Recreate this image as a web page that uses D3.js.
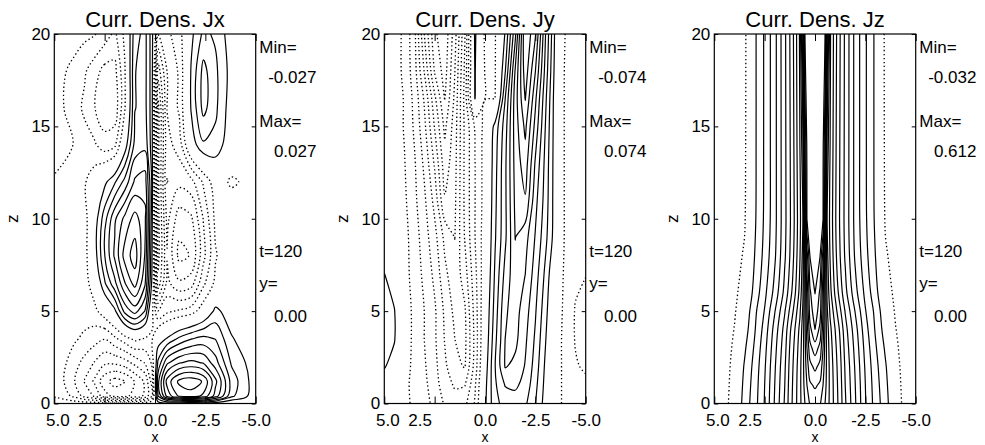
<!DOCTYPE html>
<html>
<head>
<meta charset="utf-8">
<script src="https://cdn.jsdelivr.net/npm/d3@7"></script>
<style>
  body { margin: 0; background: #fff; }
  text { font-family: "Liberation Sans", Arial, Helvetica, sans-serif; fill: #000; }
</style>
</head>
<body>
<div id="chart"></div>
<script>
(function() {
  'use strict'

  // ---- data (grid values in units of 1e-3) ----
  var titles = ["Curr. Dens. Jx", "Curr. Dens. Jy", "Curr. Dens. Jz"]
  var minLabels = ["-0.027", "-0.074", "-0.032"]
  var maxLabels = ["0.027", "0.074", "0.612"]
  var timeLabel = "t=120"
  var yLabel = "y="
  var yValue = "0.00"
  var xTicks = [5, 2.5, 0, -2.5, -5]
  var zTicks = [0, 5, 10, 15, 20]

  // Jx : columns from x=5 to x=-5, rows from z=0 up to z=20
  var jxX = [5, 4, 3.5, 3, 2.5, 2, 1.5, 1, 0.5, 0.15, -0.15, -0.6, -1.2, -1.8, -2.4, -3, -3.8, -5]
  var jxZ = [0, 0.4, 1.2, 2.2, 3.5, 5, 6.5, 8, 10, 12, 14, 16, 18, 20]
  var jxGrid = [
    [-1, -1, -1, -1, -2, -2, -2, -2, -1, 0, 1, 2, 2, 2, 2, 1, 0, 0],
    [-3, -6, -9, -11, -15, -17, -17, -15, -13, -8, 8, 17, 22, 23, 21, 15, 6, 1],
    [-3, -8, -11, -14, -18, -20, -19, -16, -13, -7, 10, 20, 25, 26, 24, 17, 7, 1],
    [-3, -7, -9, -11, -13, -13, -12, -10, -8, -5, 6, 13, 16, 17, 16, 12, 5, 1],
    [-3, -5, -6, -7, -8, -6, -4, -2, -3, -3, 1, 3, 6, 8, 9, 8, 3, 0],
    [-3, -3, -4, -3.5, -1, 2, 9, 12, 8, -2, -8, -6, -5, -4, -1, 3.5, 1, 0],
    [-3, -3, -4, -1, 5, 10, 16, 20, 14, 2, -18, -10, -13, -12, -6, -2, 0, 0],
    [-3, -3, -4, 1.2, 8, 14, 20, 23, 16, 3, -20, -11, -17, -16, -9, -3, 0, 0],
    [-3, -3, -4, 1, 7, 13, 17, 20, 17, 4, -20, -10, -15, -14, -8, -2, 0, 0],
    [-3, -2.8, -3, -1, 2, 5, 9, 14, 15, 5, -20, -8, -10, -9, -5, -1, -3.2, -1.5],
    [-1.5, -2.8, -4, -5, -7, -6, 1, 9, 10, 4, -20, -9, -7, 1, 5, 4.5, 0.5, 0],
    [-1.5, -4, -6, -8, -10, -10, -3, 8, 9, 4, -20, -8, -5, 3, 9, 6, 1, 0],
    [-1.5, -3.5, -5, -7, -9, -9, -3, 8, 9, 4, -15, -8, -5, 3, 9, 6, 1.5, 0],
    [-1, -1.5, -2, -2.5, -4, -6, -2, 7, 9, 4, -8, -6, -4, 2, 6, 5, 1, 0]
  ]
  var jxStep = 2.7, jxCount = 9

  // Jy
  var jyX = [5, 4.5, 4, 3.5, 3, 2.5, 2, 1.5, 1, 0.5, 0, -0.5, -1, -1.5, -2, -2.5, -3, -3.5, -4, -4.5, -5]
  var jyZ = [0, 1, 2, 3.5, 5, 7, 9, 11, 13, 15, 16.5, 18, 20]
  var jyGrid = [
    [0, -3, -6, -8.5, -12, -17, -23, -26, -24, -14, 6, 20, 25, 26, 23.5, 15, 4, -5, -9, -11, -11],
    [3, -1, -6, -9, -13, -19, -26, -30.5, -30, -16, 5, 21, 30, 31, 27, 17, 5, -5, -9, -12, -13],
    [8, 4, -5, -9, -14, -20, -28, -35, -37.5, -19, 3, 22, 37.5, 35, 29, 19, 6, -5, -9, -14, -16],
    [10, 8, -4, -9, -15, -21, -30, -37, -39, -20, 1, 20, 37, 39, 31, 21, 8, -5, -9, -15.5, -18],
    [10, 7.8, -4, -9, -15, -21, -31, -39, -38, -19, 0, 18, 36, 40, 33, 23, 10, -4, -9, -15.5, -18],
    [7.6, 3, -5, -10, -17, -24, -35, -42, -33, -17, -2, 16, 32, 42, 37, 26, 13, -2, -9, -13, -14.5],
    [0, -2, -5, -11, -19, -27, -39, -44.6, -29, -15, -3, 14, 28, 44.6, 40, 29, 17, 3, -9, -11, -11],
    [0, -2, -6, -13, -21, -32, -51, -46, -28, -15, -4, 13, 28, 46, 51, 32, 19, 3, -9, -11, -11],
    [0, -2, -7, -14, -24, -38, -56, -47, -28, -15, -4, 12, 28, 47, 56, 36, 20, 3, -9, -11, -11],
    [0, -3, -8, -16, -28, -45, -61, -48, -28, -14, -5, 10, 26, 48, 61, 42, 22, 3, -9, -11, -11],
    [0, -3, -8, -17, -31, -50, -67, -50, -27, 7.6, -7.5, -7.5, 22, 48, 67, 46, 24, 3, -9, -11, -11],
    [0, -4, -9, -19, -38, -60, -70, -52, -28, 8, -8, -8, 14, 45, 71, 52, 27, 4, -9, -11, -11],
    [0, -4, -9, -20, -45, -65, -72, -55, -30, 9, -9, -8, 8, 35, 74, 60, 30, 5, -8, -11, -11]
  ]
  var jyStep = 7.4, jyCount = 9

  // Jz : symmetric in x, one half given (|x| from 0 out to 5)
  var jzHalfX = [0, 0.25, 0.4, 0.5, 0.6, 0.75, 1, 1.25, 1.5, 2, 2.5, 3, 3.5, 4, 4.5, 5]
  var jzZ = [0, 1, 2, 3, 4, 5, 6, 8, 10, 14, 20]
  var jzHalfGrid = [
    [430, 423, 405, 390, 375, 352, 318, 285, 244, 183, 122, 77, 42, 0, -25, -30],
    [455, 445, 420, 400, 380, 352, 316, 282, 240, 180, 120, 74, 38, -3, -26, -31],
    [488, 470, 435, 405, 382, 350, 313, 278, 236, 176, 116, 70, 33, -6, -27, -31],
    [525, 500, 450, 410, 380, 345, 308, 272, 230, 170, 110, 64, 25, -10, -28, -32],
    [570, 530, 465, 415, 375, 338, 300, 264, 222, 162, 102, 57, 15, -14, -29, -32],
    [586, 555, 480, 418, 365, 325, 283, 245, 208, 148, 92, 52, 6, -18, -30, -32],
    [601, 565, 490, 420, 355, 310, 265, 225, 190, 130, 82, 40, -3, -21, -30, -32],
    [607, 601, 525, 430, 340, 298, 250, 210, 176, 115, 70, 30, -12, -25, -31, -32],
    [610, 608, 602, 475, 328, 293, 245, 205, 172, 110, 65, 25, -18, -28, -31, -32],
    [612, 610, 606, 540, 350, 300, 248, 207, 173, 110, 64, 24, -20, -29, -32, -32],
    [610, 609, 606, 603, 420, 305, 252, 210, 174, 110, 64, 24, -21, -30, -32, -32]
  ]
  var jzNegLevels = [-15]
  var jzStep = 30, jzCount = 20

  // ---- build panel tables ----
  function symLevels(step, n) {
    var out = []
    for (var k = -n; k <= n; k++) if (k !== 0) out.push(k * step)
    return out
  }
  function mirrorRow(row) {
    return row.slice(1).reverse().concat(row)
  }
  var jzX = jzHalfX.slice(1).reverse().concat(jzHalfX.map(function(v) { return v === 0 ? 0 : -v }))
  var jzGrid = jzHalfGrid.map(mirrorRow)
  var jzLevels = jzNegLevels.concat(d3.range(1, jzCount + 1).map(function(k) { return k * jzStep }))

  var panels = [
    { xs: jxX, zs: jxZ, grid: jxGrid, levels: symLevels(jxStep, jxCount) },
    { xs: jyX, zs: jyZ, grid: jyGrid, levels: symLevels(jyStep, jyCount) },
    { xs: jzX, zs: jzZ, grid: jzGrid, levels: jzLevels }
  ]

  // ---- SVG setup ----
  var width = 985, height = 445
  var firstLeft = 54.3, panelGap = 330, plotW = 201.4
  var plotTop = 34, plotBottom = 403.5

  var svg = d3.select("#chart").append("svg")
    .attr("width", width)
    .attr("height", height)

  function fmt(d) { return d.toFixed(1) }

  // cut a d3.contours ring at the grid border, keep the inside runs
  function splitRing(ring, nx, nz) {
    var onEdge = function(p) { return p[0] <= 0 || p[0] >= nx || p[1] <= 0 || p[1] >= nz }
    var pts = ring.slice(0, -1)
    var n = pts.length
    var start = -1
    for (var i = 0; i < n; i++) if (onEdge(pts[i])) { start = i; break }
    if (start < 0) return [{ pts: pts, closed: true }]
    var runs = [], cur = []
    for (var k = 1; k <= n; k++) {
      var p = pts[(start + k) % n]
      if (onEdge(p)) {
        if (cur.length > 1) runs.push({ pts: cur, closed: false })
        cur = []
      } else cur.push(p)
    }
    return runs
  }

  panels.forEach(function(p, i) {
    var left = firstLeft + i * panelGap
    var right = left + plotW
    var cx = left + plotW / 2

    var x = d3.scaleLinear().domain([5, -5]).range([left, right])
    var z = d3.scaleLinear().domain([0, 20]).range([plotBottom, plotTop])

    var nx = p.xs.length, nz = p.zs.length
    var ix = d3.scaleLinear().domain(d3.range(nx)).range(p.xs)
    var iz = d3.scaleLinear().domain(d3.range(nz)).range(p.zs)

    var values = []
    p.grid.forEach(function(row) { row.forEach(function(v) { values.push(v) }) })

    var g = svg.append("g")
    var clipId = "clip" + i
    g.append("clipPath").attr("id", clipId)
      .append("rect").attr("x", left).attr("y", plotTop)
      .attr("width", plotW).attr("height", plotBottom - plotTop)

    var toPx = function(pt) {
      var gi = Math.max(0, Math.min(nx - 1, pt[0] - 0.5))
      var gj = Math.max(0, Math.min(nz - 1, pt[1] - 0.5))
      return [x(ix(gi)), z(iz(gj))]
    }
    var openLine = d3.line().curve(d3.curveCatmullRom)
    var closedLine = d3.line().curve(d3.curveCatmullRomClosed)

    var lines = g.append("g").attr("clip-path", "url(#" + clipId + ")")
    var contours = d3.contours().size([nx, nz]).thresholds(p.levels)(values)

    contours.forEach(function(c) {
      var neg = c.value < 0
      c.coordinates.forEach(function(poly) {
        poly.forEach(function(ring) {
          splitRing(ring, nx, nz).forEach(function(run) {
            var pts = run.pts.map(toPx)
            lines.append("path")
              .attr("d", run.closed ? closedLine(pts) : openLine(pts))
              .attr("fill", "none")
              .attr("stroke", "#000")
              .attr("stroke-width", neg ? 1.3 : 1.2)
              .attr("stroke-dasharray", neg ? "1.4,2.6" : null)
          })
        })
      })
    })

    // frame
    g.append("rect")
      .attr("x", left).attr("y", plotTop)
      .attr("width", plotW).attr("height", plotBottom - plotTop)
      .attr("fill", "none").attr("stroke", "#000").attr("stroke-width", 1.2)

    // axes
    var fontFam = '"Liberation Sans", Arial, Helvetica, sans-serif'
    var bottomAxis = g.append("g")
      .attr("transform", "translate(0," + plotBottom + ")")
      .call(d3.axisBottom(x).tickValues(xTicks).tickSize(-7).tickPadding(10).tickFormat(fmt))
    bottomAxis.selectAll("text")
      .attr("dx", function(d) { return d === 2.5 ? -15 : (d === 5 ? 3 : 0) })

    g.append("g")
      .attr("transform", "translate(0," + plotTop + ")")
      .call(d3.axisTop(x).tickValues(xTicks).tickSize(-7).tickFormat(""))

    g.append("g")
      .attr("transform", "translate(" + left + ",0)")
      .call(d3.axisLeft(z).tickValues(zTicks).tickSize(-4).tickPadding(4))

    g.append("g")
      .attr("transform", "translate(" + right + ",0)")
      .call(d3.axisRight(z).tickValues(zTicks).tickSize(-4).tickFormat(""))

    g.selectAll(".domain").remove()
    g.selectAll(".tick line").attr("stroke-width", 1)
    g.selectAll(".tick text")
      .attr("font-size", 17)
      .attr("font-family", fontFam)
      .attr("fill", "#000")

    // titles
    g.append("text")
      .attr("x", cx).attr("y", 26.5)
      .attr("text-anchor", "middle")
      .attr("font-size", 22)
      .text(titles[i])

    g.append("text")
      .attr("x", cx).attr("y", 441.5)
      .attr("text-anchor", "middle")
      .attr("font-size", 14)
      .text("x")

    g.append("text")
      .attr("transform", "translate(" + (left - 36.5) + "," + z(10) + ") rotate(-90)")
      .attr("text-anchor", "middle")
      .attr("font-size", 17)
      .text("z")

    // side notes
    var noteX = right + 3.6
    var valX = right + 12.5
    var notes = [
      { t: "Min=", x: noteX, dy: 19 },
      { t: minLabels[i], x: valX, dy: 49, val: true },
      { t: "Max=", x: noteX, dy: 93 },
      { t: maxLabels[i], x: valX, dy: 123, val: true },
      { t: timeLabel, x: noteX, dy: 223 },
      { t: yLabel, x: noteX, dy: 255 },
      { t: yValue, x: valX, dy: 288, val: true }
    ]
    notes.forEach(function(n) {
      var shift = n.val && n.t.charAt(0) !== "-" ? 5.7 : 0
      g.append("text")
        .attr("x", n.x + shift)
        .attr("y", plotTop + n.dy)
        .attr("font-size", 17)
        .text(n.t)
    })
  })
})()
</script>
</body>
</html>
